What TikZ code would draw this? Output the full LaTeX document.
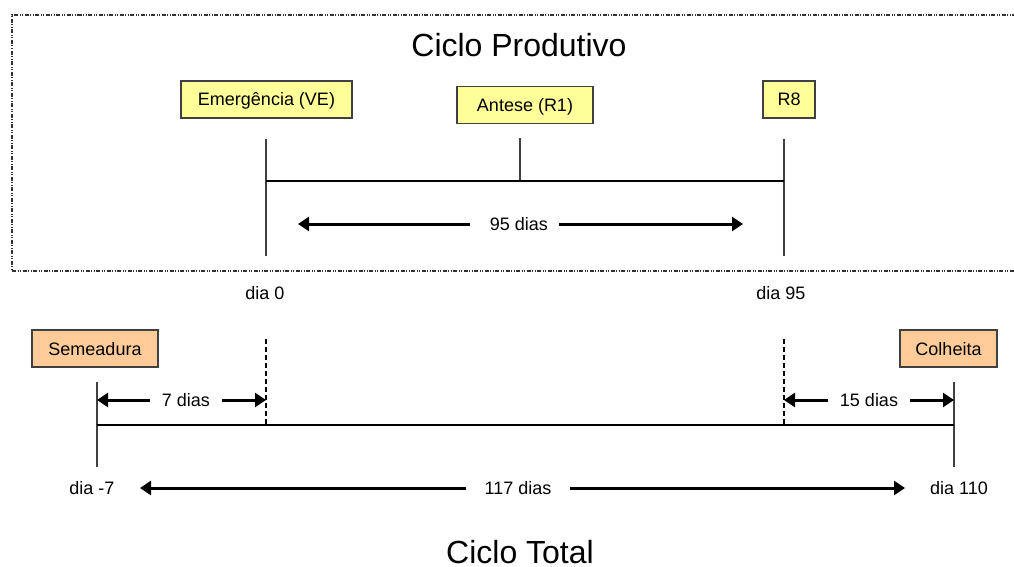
\documentclass[tikz,border=0pt]{standalone}
\usepackage{fontspec}
\setmainfont{Liberation Sans}
\usetikzlibrary{arrows.meta}
\definecolor{boxyellow}{HTML}{FFFF99}
\definecolor{boxorange}{HTML}{FFCC99}
\definecolor{linegray}{HTML}{404040}
\tikzset{
  tagbox/.style={draw=linegray, line width=1.2pt, minimum height=37pt, inner sep=0pt,
    text height=13pt, text depth=0pt, font=\fontsize{18pt}{20pt}\selectfont},
  ybox/.style={tagbox, fill=boxyellow},
  obox/.style={tagbox, fill=boxorange},
  lbl/.style={inner sep=0pt, text height=13pt, text depth=0pt, font=\fontsize{18pt}{20pt}\selectfont},
  ttl/.style={inner sep=0pt, text height=23pt, text depth=0pt, font=\fontsize{32pt}{36pt}\selectfont},
  tick/.style={draw=linegray, line width=1.2pt},
  axis/.style={draw=black, line width=1.3pt},
  dashtick/.style={draw=black, line width=1.4pt, dash pattern=on 5pt off 3pt},
  bigarrow/.style={draw=black, line width=3pt, -{Triangle[length=11pt,width=14pt]}},
  framebox/.style={draw=black!80, line width=1.2pt, dash pattern=on 4pt off 1.5pt on 1pt off 1.5pt on 1pt off 1.5pt},
}
\begin{document}
\begin{tikzpicture}[x=1pt,y=-1pt]
\useasboundingbox (0,0) rectangle (1014,567);
% frame
\draw[framebox] (1016,15) -- (12,15) -- (12,271) -- (1016,271);
% title
\node[ttl] (t1) at (519,45) {Ciclo Produtivo};
\node[ttl] (t2) at (520,551.5) {Ciclo Total};
% upper boxes
\node[ybox, minimum width=171pt] (ve) at (266.5,99.5) {Emergência (VE)};
\node[ybox, minimum width=136pt] (r1) at (525,105) {Antese (R1)};
\node[ybox, minimum width=52pt] (r8) at (789,99.5) {R8};
% upper coordinates
\coordinate (a0) at (266,139); \coordinate (a1) at (266,181); \coordinate (a2) at (266,256);
\coordinate (b0) at (784,139); \coordinate (b1) at (784,181); \coordinate (b2) at (784,256);
\coordinate (m0) at (520,138); \coordinate (m1) at (520,181);
\draw[tick] (a0) -- (a2);
\draw[tick] (b0) -- (b2);
\draw[tick] (m0) -- (m1);
\draw[axis] (a1) -- (b1);
% 95 dias
\node[lbl] (d95) at (519,224) {95 dias};
\coordinate (d95l) at (298,224); \coordinate (d95r) at (743,224);
\draw[bigarrow] (d95.west) ++(-20pt,0) coordinate (d95a) -- (d95l);
\draw[bigarrow] (d95.east) ++(11pt,0) coordinate (d95b) -- (d95r);
\node[lbl] (dia0) at (265,293) {dia 0};
\node[lbl] (dia95) at (781,293) {dia 95};
% lower boxes
\node[obox, minimum width=126pt] (sem) at (95,348.5) {Semeadura};
\node[obox, minimum width=97pt] (col) at (948.5,348.5) {Colheita};
% lower coordinates
\coordinate (s0) at (97,382); \coordinate (s1) at (97,425); \coordinate (s2) at (97,467);
\coordinate (c0) at (954,382); \coordinate (c1) at (954,425); \coordinate (c2) at (954,467);
\coordinate (e0) at (266,339); \coordinate (e1) at (266,425);
\coordinate (f0) at (784,339); \coordinate (f1) at (784,425);
\draw[tick] (s0) -- (s2);
\draw[tick] (c0) -- (c2);
\draw[dashtick] (e0) -- (e1);
\draw[dashtick] (f0) -- (f1);
\draw[axis] (s1) -- (c1);
% 7 dias
\node[lbl] (d7) at (186,400) {7 dias};
\coordinate (d7l) at (97,400); \coordinate (d7r) at (266,400);
\draw[bigarrow] (150,400) coordinate (d7a) -- (d7l);
\draw[bigarrow] (222,400) coordinate (d7b) -- (d7r);
% 15 dias
\node[lbl] (d15) at (869,400) {15 dias};
\coordinate (d15l) at (784,400); \coordinate (d15r) at (954,400);
\draw[bigarrow] (828,400) coordinate (d15a) -- (d15l);
\draw[bigarrow] (910,400) coordinate (d15b) -- (d15r);
% 117 dias
\node[lbl] (d117) at (518,488) {117 dias};
\coordinate (d117l) at (140,488); \coordinate (d117r) at (905,488);
\draw[bigarrow] (d117.west) ++(-18pt,0) coordinate (d117a) -- (d117l);
\draw[bigarrow] (d117.east) ++(18pt,0) coordinate (d117b) -- (d117r);
\node[lbl] (dm7) at (92,488) {dia -7};
\node[lbl] (d110) at (959,488) {dia 110};
\end{tikzpicture}
\end{document}
